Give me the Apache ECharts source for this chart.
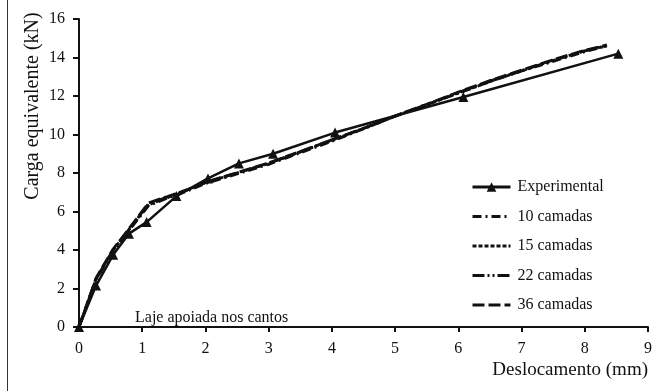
<!DOCTYPE html>
<html>
<head>
<meta charset="utf-8">
<script src="https://cdn.jsdelivr.net/npm/echarts@6/dist/echarts.min.js"></script>
<style>
html,body{margin:0;padding:0;background:#fff;}
#chart{width:655px;height:391px;}
</style>
</head>
<body>
<div id="chart"></div>
<script>
// ---- data ----
const expX = [0, 0.27, 0.54, 0.79, 1.07, 1.54, 2.04, 2.53, 3.07, 4.05, 6.08, 8.53];
const expY = [0, 2.15, 3.75, 4.85, 5.45, 6.8, 7.72, 8.5, 9.0, 10.1, 11.95, 14.2];

const numX = [0, 0.27, 0.54, 0.8, 1.1, 1.4, 1.7, 2.0, 2.5, 3.0, 3.5, 4.0, 4.5, 5.0, 5.5, 6.0, 6.5, 7.0, 7.5, 8.0, 8.35];
const c10Y = [0, 2.45, 3.95, 5.05, 6.3, 6.7, 7.05, 7.45, 7.95, 8.45, 9.05, 9.65, 10.3, 10.95, 11.55, 12.15, 12.75, 13.3, 13.8, 14.3, 14.6];
const c15Y = [0, 2.5, 4.0, 5.1, 6.35, 6.72, 7.1, 7.5, 8.0, 8.5, 9.1, 9.7, 10.3, 10.95, 11.55, 12.15, 12.75, 13.3, 13.85, 14.35, 14.62];
const c22Y = [0, 2.5, 4.0, 5.1, 6.4, 6.75, 7.1, 7.5, 8.0, 8.5, 9.1, 9.72, 10.32, 10.95, 11.55, 12.18, 12.78, 13.32, 13.85, 14.35, 14.6];
const c36Y = [0, 2.55, 4.05, 5.15, 6.45, 6.78, 7.12, 7.52, 8.02, 8.52, 9.12, 9.72, 10.32, 10.97, 11.57, 12.2, 12.8, 13.35, 13.88, 14.38, 14.65];

const seriesNames = ['Experimental', '10 camadas', '15 camadas', '22 camadas', '36 camadas'];
const xTicks = [0, 1, 2, 3, 4, 5, 6, 7, 8, 9];
const yTicks = [0, 2, 4, 6, 8, 10, 12, 14, 16];
const xTitle = 'Deslocamento (mm)';
const yTitle = 'Carga equivalente (kN)';
const note = 'Laje apoiada nos cantos';

const pairs = (xs, ys) => xs.map((x, i) => [x, ys[i]]);
const FONT = '"Liberation Serif", "Times New Roman", serif';
const INK = '#111';

const chart = echarts.init(document.getElementById('chart'), null, {renderer: 'canvas'});

const dashStyles = [[9, 4, 2, 4], [4, 2], [12, 3, 2, 3, 2, 3], [12, 4]];
const numData = [c10Y, c15Y, c22Y, c36Y];

const series = [{
  name: seriesNames[0],
  type: 'line',
  data: pairs(expX, expY),
  symbol: 'triangle',
  symbolSize: 10,
  showAllSymbol: true,
  itemStyle: {color: INK},
  lineStyle: {color: INK, width: 2.5},
  z: 5,
  animation: false
}];
numData.forEach((ys, i) => {
  series.push({
    name: seriesNames[i + 1],
    type: 'line',
    data: pairs(numX, ys),
    symbol: 'none',
    itemStyle: {color: 'rgba(0,0,0,0)', borderWidth: 0},
    lineStyle: {color: INK, width: 2.8, type: dashStyles[i]},
    animation: false
  });
});

chart.setOption({
  animation: false,
  backgroundColor: '#fff',
  grid: {left: 79, right: 7, top: 19, bottom: 64, containLabel: false},
  xAxis: {
    type: 'value',
    min: xTicks[0], max: xTicks[xTicks.length - 1], interval: 1,
    axisLine: {show: true, onZero: false, lineStyle: {color: INK, width: 2}},
    axisTick: {show: true, inside: false, length: 5, lineStyle: {color: INK, width: 2}},
    axisLabel: {color: INK, fontFamily: FONT, fontSize: 16, margin: 14},
    splitLine: {show: false}
  },
  yAxis: {
    type: 'value',
    min: yTicks[0], max: yTicks[yTicks.length - 1], interval: 2,
    axisLine: {show: true, onZero: false, lineStyle: {color: INK, width: 2}},
    axisTick: {show: true, inside: false, length: 6, lineStyle: {color: INK, width: 2}},
    axisLabel: {color: INK, fontFamily: FONT, fontSize: 16, margin: 14},
    splitLine: {show: false}
  },
  legend: {
    data: seriesNames,
    orient: 'vertical',
    left: 466, top: 174,
    itemWidth: 38, itemHeight: 12, itemGap: 13.5,
    lineStyle: {width: 3},
    textStyle: {color: INK, fontFamily: FONT, fontSize: 16, padding: [0, 0, 0, 2]}
  },
  graphic: [
    {type: 'line', shape: {x1: 7.5, y1: 0, x2: 7.5, y2: 391}, style: {stroke: '#333', lineWidth: 1}},
    {type: 'text', x: 33, y: 106, rotation: Math.PI / 2,
      style: {text: yTitle, font: '20px ' + FONT, fill: INK, textAlign: 'center', textVerticalAlign: 'middle'}},
    {type: 'text', x: 648, y: 370,
      style: {text: xTitle, font: '19px ' + FONT, fill: INK, textAlign: 'right', textVerticalAlign: 'middle'}},
    {type: 'text', x: 135, y: 318,
      style: {text: note, font: '16px ' + FONT, fill: INK, textAlign: 'left', textVerticalAlign: 'middle'}}
  ],
  series: series
});
</script>
</body>
</html>
